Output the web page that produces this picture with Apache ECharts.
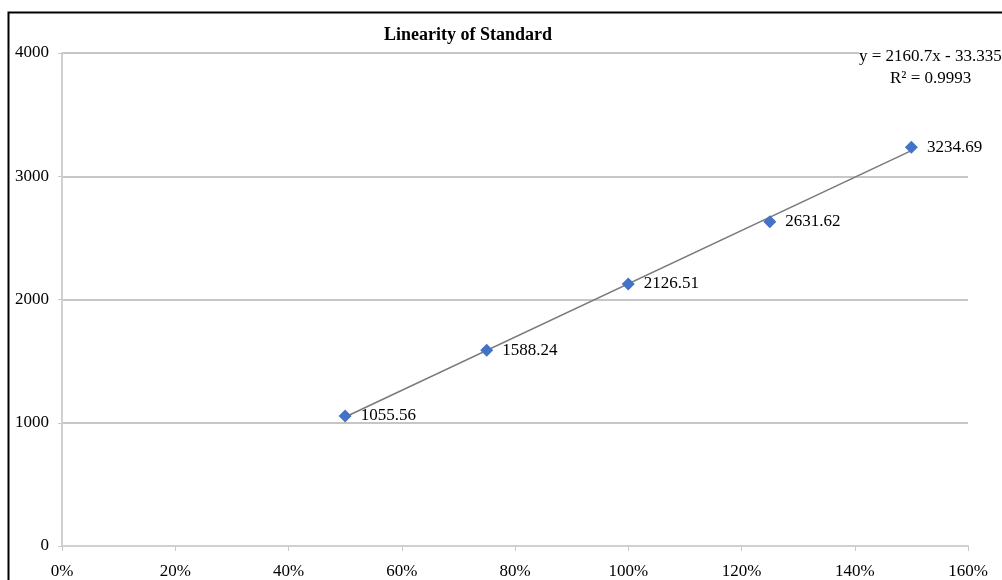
<!DOCTYPE html>
<html>
<head>
<meta charset="utf-8">
<script src="https://cdn.jsdelivr.net/npm/echarts@6/dist/echarts.min.js"></script>
<style>
html, body { margin: 0; padding: 0; background: #fff; }
#main { width: 1002px; height: 580px; }
</style>
</head>
<body>
<div id="main"></div>
<script>
// concentration levels (%) and measured responses
var levels = [50, 75, 100, 125, 150];
var responses = [1055.56, 1588.24, 2126.51, 2631.62, 3234.69];
// linear trend line y = slope*x + intercept (x as fraction)
var slope = 2160.7;
var intercept = -33.335;
var r2 = 0.9993;

var chart = echarts.init(document.getElementById('main'));

var points = [];
for (var i = 0; i < levels.length; i++) {
    points.push([levels[i], responses[i]]);
}
var x0 = levels[0], x1 = levels[levels.length - 1];
var trend = [
    [x0, slope * x0 / 100 + intercept],
    [x1, slope * x1 / 100 + intercept]
];

var serif = '"Liberation Serif", "Times New Roman", serif';

var option = {
    backgroundColor: '#fff',
    animation: false,
    title: {
        text: 'Linearity of Standard',
        left: 463,
        textAlign: 'center',
        top: 21,
        textStyle: { fontFamily: serif, fontSize: 18, fontWeight: 'bold', color: '#000' }
    },
    grid: { left: 62, right: 34, top: 53, bottom: 33 },
    xAxis: {
        type: 'value',
        min: 0,
        max: 160,
        interval: 20,
        axisLine: { show: true, lineStyle: { color: '#d0d0d0', width: 2 } },
        axisTick: { show: true, length: 5, lineStyle: { color: '#c8c8c8' } },
        splitLine: { show: false },
        axisLabel: {
            formatter: '{value}%',
            margin: 17,
            fontFamily: serif,
            fontSize: 17,
            color: '#000'
        }
    },
    yAxis: {
        type: 'value',
        min: 0,
        max: 4000,
        interval: 1000,
        axisLine: { show: true, lineStyle: { color: '#d0d0d0', width: 2 } },
        axisTick: { show: true, length: 4, lineStyle: { color: '#c8c8c8' } },
        splitLine: { show: true, lineStyle: { color: '#c6c6c6', width: 2 } },
        axisLabel: {
            formatter: function (v) { return String(v); },
            margin: 13,
            fontFamily: serif,
            fontSize: 17,
            color: '#000'
        }
    },
    series: [
        {
            type: 'line',
            data: trend,
            symbol: 'none',
            lineStyle: { color: '#7a7a7a', width: 1.5 },
            z: 2
        },
        {
            type: 'scatter',
            data: points,
            symbol: 'diamond',
            symbolSize: 13,
            itemStyle: { color: '#4472c4', opacity: 1 },
            label: {
                show: true,
                position: 'right',
                distance: 9,
                formatter: function (p) { return p.value[1].toFixed(2); },
                fontFamily: serif,
                fontSize: 17,
                color: '#000'
            },
            z: 3
        }
    ],
    graphic: [
        {
            type: 'rect',
            shape: { x: 8.5, y: 12.5, width: 1100, height: 700 },
            style: { fill: 'none', stroke: '#000', lineWidth: 2 },
            silent: true
        },
        {
            type: 'text',
            left: 859,
            top: 48,
            z: 10,
            style: {
                text: 'y = ' + slope + 'x - ' + Math.abs(intercept),
                font: '17px ' + serif,
                fill: '#000',
                backgroundColor: '#fff'
            }
        },
        {
            type: 'text',
            left: 890,
            top: 70,
            z: 10,
            style: {
                text: 'R² = ' + r2,
                font: '17px ' + serif,
                fill: '#000'
            }
        }
    ]
};

chart.setOption(option);
</script>
</body>
</html>
